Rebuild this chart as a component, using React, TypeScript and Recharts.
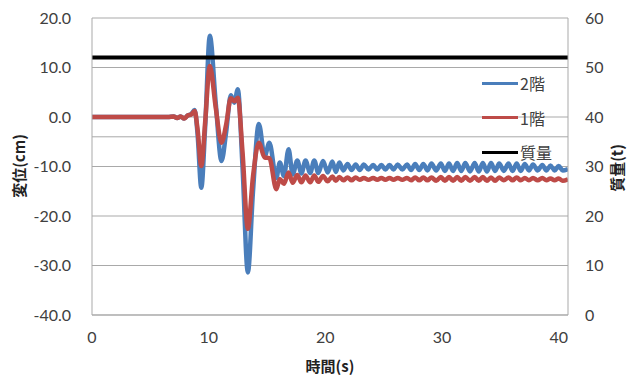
import { ComposedChart, Line, XAxis, YAxis, CartesianGrid, ReferenceLine } from 'recharts'

// time (s)
const times = [
  0, 6.5, 7.0, 7.3, 7.6, 7.9, 8.2, 8.5, 8.8, 9.05, 9.37, 9.7, 10.1, 10.6, 11.1, 11.5, 11.9, 12.2, 12.5, 12.9, 13.36,
  13.8, 14.3, 14.8, 15.2, 15.8, 16.1, 16.45, 16.85, 17.2, 17.6, 17.95, 18.3, 18.7, 19.05, 19.4, 19.8, 20.2, 20.6,
  20.9, 21.2, 21.55, 21.9, 22.25, 22.6, 22.95, 23.3, 23.7, 24.1, 24.45, 24.8, 25.15, 25.5, 25.85, 26.2, 26.6, 27.0,
  27.35, 27.7, 28.05, 28.4, 28.75, 29.1, 29.5, 29.9, 30.25, 30.6, 30.95, 31.3, 31.65, 32.0, 32.4, 32.8, 33.15, 33.5,
  33.85, 34.2, 34.55, 34.9, 35.3, 35.7, 36.05, 36.4, 36.75, 37.1, 37.45, 37.8, 38.2, 38.6, 38.95, 39.3, 39.65, 40.0,
  40.35, 40.8,
]

// 2階 displacement (cm)
const floor2 = [
  0, 0, 0.1, -0.2, 0.1, -0.3, 0.3, 0.6, 1.4, -3.5, -14.3, -2.0, 16.4, 3.0, -8.9, -3.0, 4.4, 2.9, 5.6, -10.0, -31.4,
  -15.0, -1.4, -7.9, -5.2, -12.3, -9.2, -11.9, -6.5, -11.6, -8.8, -11.4, -8.8, -11.3, -8.8, -11.3, -8.9, -11.2, -9.0,
  -11.1, -9.2, -10.8, -9.5, -10.7, -9.6, -10.7, -9.6, -10.6, -9.7, -10.6, -9.7, -10.6, -9.7, -10.6, -9.6, -10.6, -9.6,
  -10.7, -9.5, -10.7, -9.5, -10.8, -9.4, -10.8, -9.4, -10.9, -9.4, -10.9, -9.3, -10.9, -9.3, -11.0, -9.3, -11.0, -9.3,
  -11.0, -9.3, -10.9, -9.4, -10.9, -9.4, -10.9, -9.4, -10.9, -9.5, -10.8, -9.6, -10.8, -9.7, -10.8, -9.8, -10.8, -9.9,
  -10.8, -10.5,
]

// 1階 displacement (cm)
const floor1 = [
  0, 0, 0.1, -0.2, 0.1, -0.3, 0.3, 0.5, 1.2, -2.5, -9.9, -1.0, 10.3, 2.0, -5.2, -1.5, 3.8, 3.2, 3.9, -7.0, -22.6,
  -12.0, -5.2, -8.2, -8.3, -14.6, -12.5, -13.5, -11.2, -13.3, -11.7, -13.2, -11.8, -13.2, -11.8, -13.1, -11.9, -13.0, -12.0,
  -12.9, -12.1, -12.8, -12.2, -12.8, -12.2, -12.7, -12.3, -12.7, -12.3, -12.7, -12.3, -12.7, -12.3, -12.7, -12.3, -12.7, -12.3,
  -12.8, -12.2, -12.8, -12.2, -12.8, -12.2, -12.9, -12.1, -12.9, -12.1, -12.9, -12.1, -12.9, -12.1, -12.9, -12.1, -12.9, -12.1,
  -12.9, -12.2, -12.9, -12.2, -12.8, -12.2, -12.8, -12.2, -12.8, -12.3, -12.8, -12.3, -12.8, -12.3, -12.8, -12.4, -12.8, -12.4,
  -12.9, -12.6,
]

// 質量 (t)
const massTimes = [0, 40.8]
const massValues = [52, 52]

const xTicks = [0, 10, 20, 30, 40]
const leftTicks = [-40, -30, -20, -10, 0, 10, 20]
const rightTicks = [0, 10, 20, 30, 40, 50, 60]

const dispData = times.map((t, i) => ({ t, floor2: floor2[i], floor1: floor1[i] }))
const massData = massTimes.map((t, i) => ({ t, mass: massValues[i] }))

const tickStyle = { fontSize: 16, fill: '#404040', fontFamily: 'Lato, sans-serif' }
const gridColor = '#a9a9a9'
const titleStyle: React.CSSProperties = {
  position: 'absolute',
  fontFamily: '"Noto Sans CJK JP", sans-serif',
  fontWeight: 700,
  fontSize: 15,
  color: '#222',
  whiteSpace: 'nowrap',
  lineHeight: 1,
}

const legendItems = [
  { label: '2階', color: '#4a7ebb' },
  { label: '1階', color: '#be4b48' },
  { label: '質量', color: '#000000' },
]

export default function App() {
  return (
    <div style={{ position: 'absolute', left: 0, top: 0, width: 629, height: 376, background: '#fff' }}>
      <ComposedChart width={629} height={376} margin={{ top: 18, right: 0, left: 0, bottom: 0 }}>
        <CartesianGrid vertical={false} stroke={gridColor} yAxisId="left" />
        <XAxis
          dataKey="t"
          type="number"
          domain={[0, 40.8]}
          ticks={xTicks}
          allowDataOverflow
          height={61}
          tickLine={false}
          tickMargin={11}
          tick={tickStyle}
          axisLine={{ stroke: gridColor }}
        />
        <YAxis
          yAxisId="left"
          domain={[-40, 20]}
          ticks={leftTicks}
          width={92}
          tickLine={false}
          tickMargin={15}
          tick={tickStyle}
          tickFormatter={(v: number) => v.toFixed(1)}
          axisLine={{ stroke: gridColor }}
        />
        <YAxis
          yAxisId="right"
          orientation="right"
          domain={[0, 60]}
          ticks={rightTicks}
          width={61}
          tickLine={false}
          tickMargin={11}
          tick={{ ...tickStyle, textAnchor: 'start' }}
          axisLine={{ stroke: gridColor }}
        />
        <ReferenceLine yAxisId="left" y={-4} stroke={gridColor} />
        <Line
          yAxisId="left"
          data={dispData}
          dataKey="floor2"
          type="monotone"
          stroke="#4a7ebb"
          strokeWidth={4.5}
          dot={false}
          isAnimationActive={false}
        />
        <Line
          yAxisId="left"
          data={dispData}
          dataKey="floor1"
          type="monotone"
          stroke="#be4b48"
          strokeWidth={4.5}
          dot={false}
          isAnimationActive={false}
        />
        <Line
          yAxisId="right"
          data={massData}
          dataKey="mass"
          stroke="#000000"
          strokeWidth={4}
          dot={false}
          isAnimationActive={false}
        />
      </ComposedChart>

      {/* legend */}
      {legendItems.map((item, i) => (
        <div
          key={item.label}
          style={{ position: 'absolute', left: 482, top: 83 + i * 34.5 - 10, height: 20, display: 'flex', alignItems: 'center' }}
        >
          <div style={{ width: 36, height: 3, background: item.color }} />
          <span style={{ marginLeft: 2, fontSize: 16, color: '#404040', fontFamily: '"Noto Sans CJK JP", sans-serif', lineHeight: 1 }}>
            {item.label}
          </span>
        </div>
      ))}

      {/* axis titles */}
      <div style={{ ...titleStyle, left: 330, top: 365, transform: 'translate(-50%, -50%)' }}>時間(s)</div>
      <div style={{ ...titleStyle, left: 18, top: 166, transform: 'translate(-50%, -50%) rotate(-90deg)' }}>変位(cm)</div>
      <div style={{ ...titleStyle, left: 616, top: 168, transform: 'translate(-50%, -50%) rotate(-90deg)' }}>質量(t)</div>
    </div>
  )
}
